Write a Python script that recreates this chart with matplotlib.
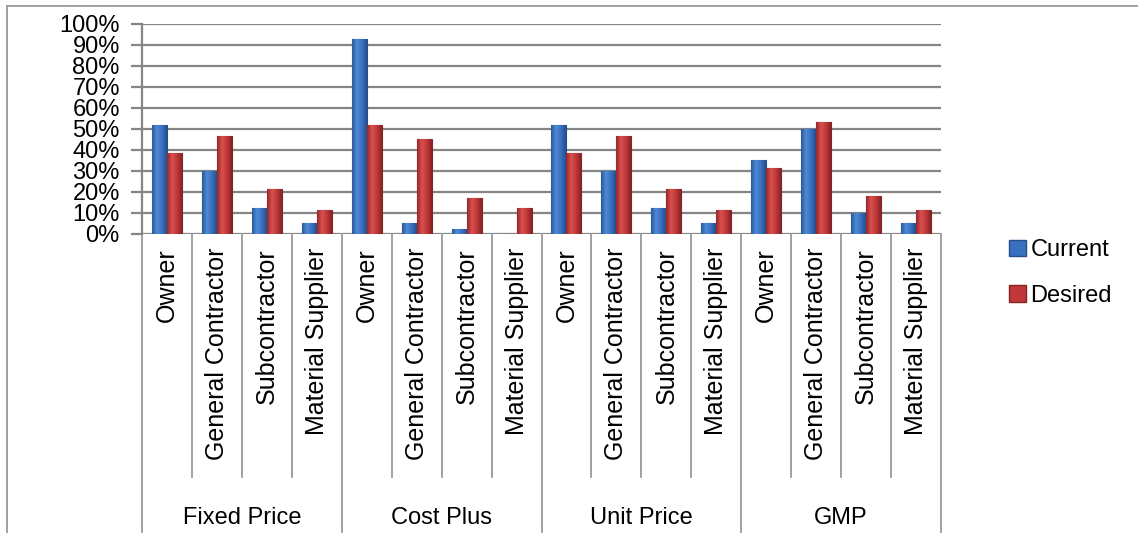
import numpy as np
import matplotlib
matplotlib.use('Agg')
import matplotlib.pyplot as plt
import matplotlib.transforms as mtransforms
from matplotlib.patches import Patch
from matplotlib.colors import LinearSegmentedColormap
from matplotlib.ticker import PercentFormatter

groups = ['Fixed Price', 'Cost Plus', 'Unit Price', 'GMP']
roles = ['Owner', 'General Contractor', 'Subcontractor', 'Material Supplier']

current = [52, 30, 12.5, 5,
           93, 5, 2.5, 0,
           52, 30, 12.5, 5,
           35, 50, 10, 5]
desired = [38.5, 46.5, 21.5, 11.5,
           52, 45, 17, 12.5,
           38.5, 46.5, 21.5, 11.5,
           31.5, 53.5, 18, 11.5]

font = 'Liberation Sans'
W, H = 1138, 533
fig = plt.figure(figsize=(W / 100, H / 100), dpi=100)

# plot area in pixels
x0, x1, y_top, y0 = 142, 941, 24, 234
ax = fig.add_axes([x0 / W, 1 - y0 / H, (x1 - x0) / W, (y0 - y_top) / H])

n = len(current)
xs = np.arange(n) + 0.5
w = 0.3
blue_cm = LinearSegmentedColormap.from_list('b', ['#2c5a9c', '#4d8ad6', '#3a70c0', '#24508f'])
red_cm = LinearSegmentedColormap.from_list('r', ['#97272a', '#d9514f', '#c2383a', '#8a2426'])
grad = np.linspace(0, 1, 32).reshape(1, -1)

def shaded_bars(xpos, vals, cmap, edge, label):
    bars = ax.bar(xpos, vals, width=w, color=cmap(0.5), edgecolor=edge, linewidth=0.8,
                  label=label, zorder=3)
    for b in bars:
        if b.get_height() <= 0:
            continue
        bx, by = b.get_x(), b.get_y()
        im = ax.imshow(grad, cmap=cmap, aspect='auto', zorder=3.5,
                       extent=[bx, bx + b.get_width(), by, by + b.get_height()])
        im.set_clip_path(b)
    return bars

shaded_bars(xs - w / 2, current, blue_cm, '#264f8c', 'Current')
shaded_bars(xs + w / 2, desired, red_cm, '#842426', 'Desired')

ax.set_xlim(0, n)
ax.set_ylim(0, 100)
ax.set_yticks(np.arange(0, 101, 10))
ax.yaxis.set_major_formatter(PercentFormatter(decimals=0))
ax.yaxis.grid(True, color='#858585', linewidth=1.6, zorder=0)
ax.set_xticks([])
for s in ['top', 'right', 'bottom']:
    ax.spines[s].set_visible(False)
ax.spines['left'].set_color('#858585')
ax.spines['left'].set_linewidth(1.6)
ax.tick_params(axis='y', length=8, width=1.6, color='#858585', pad=8, labelsize=17)
for lab in ax.get_yticklabels():
    lab.set_fontfamily(font)

# category table below the axis
tr = mtransforms.blended_transform_factory(ax.transData, fig.transFigure)
line_kw = dict(color='#9a9a9a', linewidth=1.3, transform=tr, clip_on=False)
for i in range(n + 1):
    bottom = 0 if i % 4 == 0 else 1 - 477 / H
    ax.plot([i, i], [1 - y0 / H, bottom], **line_kw)
for i in range(n):
    ax.text(i + 0.5, 1 - 248 / H, roles[i % 4], rotation=90, ha='center', va='top',
            fontsize=18, family=font, transform=tr)
for g, name in enumerate(groups):
    ax.text(g * 4 + 2, 1 - 518 / H, name, ha='center', va='center', fontsize=17,
            family=font, transform=tr)

# outer frame
fig.add_artist(plt.Line2D([7 / W, 7 / W], [0, 1 - 6 / H], color='#9a9a9a', linewidth=1.3))
fig.add_artist(plt.Line2D([7 / W, 1], [1 - 6 / H, 1 - 6 / H], color='#9a9a9a', linewidth=1.3))

handles = [Patch(facecolor='#3a70c0', edgecolor='#264f8c'),
           Patch(facecolor='#c2383a', edgecolor='#842426')]
fig.legend(handles, ['Current', 'Desired'], loc='upper left',
           bbox_to_anchor=(988 / W, 1 - 218 / H), frameon=False,
           prop={'family': font, 'size': 17}, labelspacing=1.0,
           handlelength=0.7, handleheight=0.7, handletextpad=0.2)

fig.savefig('out.png', dpi=100)
